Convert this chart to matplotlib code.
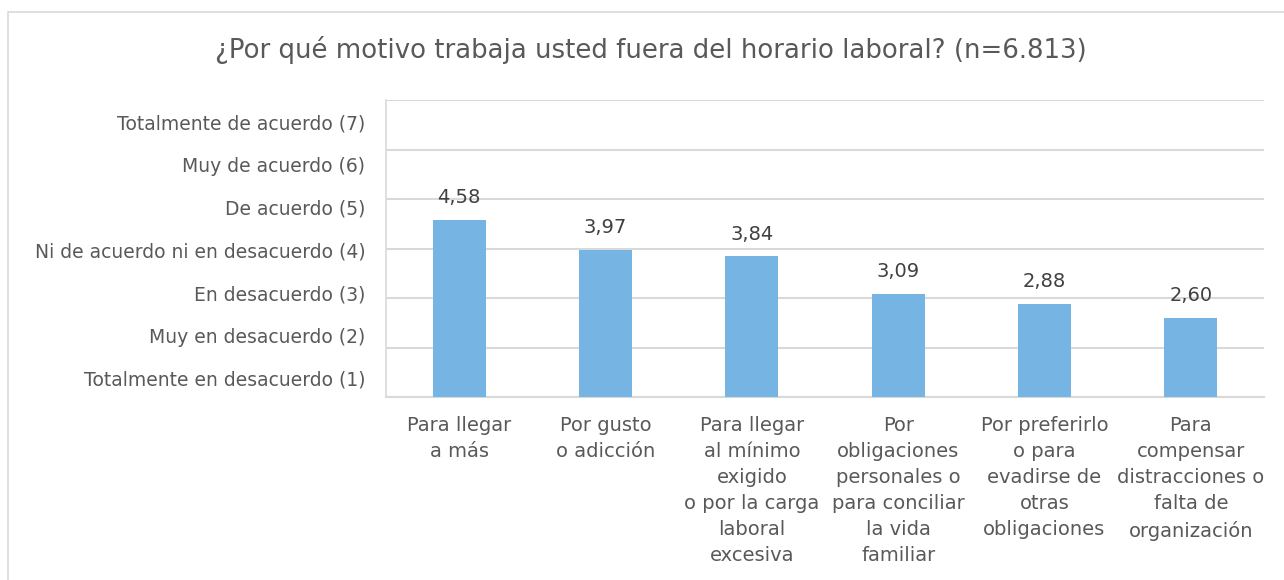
import numpy as np
import matplotlib
matplotlib.use("Agg")
import matplotlib.pyplot as plt
from matplotlib.patches import Rectangle

# data
categories = [
    "Para llegar\na más",
    "Por gusto\no adicción",
    "Para llegar\nal mínimo\nexigido\no por la carga\nlaboral\nexcesiva",
    "Por\nobligaciones\npersonales o\npara conciliar\nla vida\nfamiliar",
    "Por preferirlo\no para\nevadirse de\notras\nobligaciones",
    "Para\ncompensar\ndistracciones o\nfalta de\norganización",
]
values = [4.58, 3.97, 3.84, 3.09, 2.88, 2.60]
scale_labels = [
    "Totalmente en desacuerdo (1)",
    "Muy en desacuerdo (2)",
    "En desacuerdo (3)",
    "Ni de acuerdo ni en desacuerdo (4)",
    "De acuerdo (5)",
    "Muy de acuerdo (6)",
    "Totalmente de acuerdo (7)",
]
title = "¿Por qué motivo trabaja usted fuera del horario laboral? (n=6.813)"

text_color = "#595959"
bar_color = "#75B4E3"
grid_color = "#D9D9D9"

plt.rcParams['font.family'] = ['DejaVu Sans']

fig = plt.figure(figsize=(12.84, 5.8), dpi=100)
# outer chart frame (runs off the right and bottom edges)
fig.patches.append(Rectangle((8 / 1284, -0.1), 1.1, 0.1 + 1 - 12 / 580,
                             transform=fig.transFigure, fill=False,
                             edgecolor=grid_color, linewidth=1.2))

ax = fig.add_axes([386 / 1284, 183 / 580, 878 / 1284, 297 / 580])
x = np.arange(len(categories))
ax.bar(x, values, width=0.36, color=bar_color, zorder=3)

for xi, v in zip(x, values):
    ax.annotate(f"{v:.2f}".replace(".", ","), (xi, v), xytext=(0, 9),
                textcoords="offset points", ha="center", va="bottom",
                fontsize=14, color="#404040")

ax.set_xlim(-0.5, len(categories) - 0.5)
ax.set_ylim(1, 7)

# gridlines on integer values, scale labels placed separately
ax.set_yticks(np.arange(1, 8), minor=True)
ax.yaxis.grid(True, which="minor", color=grid_color, linewidth=1.5, zorder=0)
ax.set_yticks(np.linspace(1.38, 6.56, len(scale_labels)))
ax.set_yticklabels(scale_labels, fontsize=13.5, color=text_color)
ax.tick_params(axis="y", which="both", length=0, pad=15)

ax.set_xticks(x)
ax.set_xticklabels(categories, fontsize=14, color=text_color, linespacing=1.46)
ax.tick_params(axis="x", length=0, pad=14)

for s in ["top", "right"]:
    ax.spines[s].set_visible(False)
ax.spines["left"].set_color(grid_color)
ax.spines["bottom"].set_color(grid_color)
ax.spines["left"].set_linewidth(1.2)
ax.spines["bottom"].set_linewidth(1.5)

fig.text(651 / 1284, 1 - 50 / 580, title, ha="center", va="center",
         fontsize=18.7, color=text_color)

fig.savefig("out.png", dpi=100)
